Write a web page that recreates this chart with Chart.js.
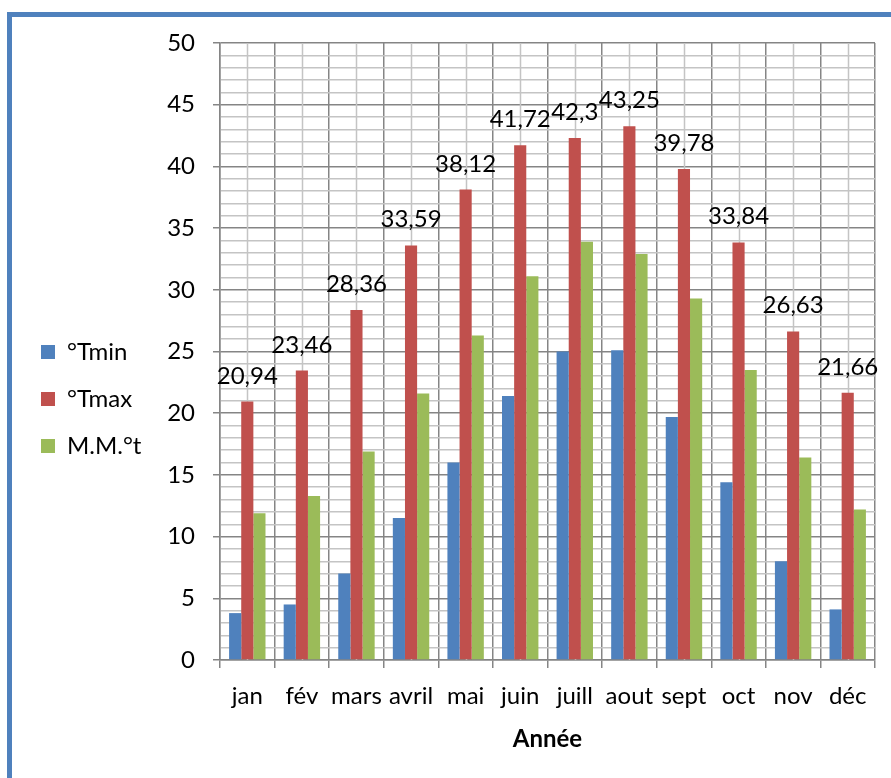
<!DOCTYPE html>
<html lang="fr">
<head>
<meta charset="utf-8">
<title>Températures mensuelles</title>
<script src="https://cdn.jsdelivr.net/npm/chart.js@4.4.1/dist/chart.umd.min.js"></script>
<style>
  html, body { margin: 0; padding: 0; background: #fff; overflow: hidden; }
  #wrap { position: relative; width: 891px; height: 778px; }
  #frame {
    position: absolute; left: 7px; top: 12px;
    width: 1000px; height: 1000px;
    border: 5px solid #4f81bd; box-sizing: border-box;
  }
  #chart { position: absolute; left: 0; top: 0; }
</style>
</head>
<body>
<div id="wrap">
  <div id="frame"></div>
  <canvas id="chart" width="891" height="778"></canvas>
</div>
<script>
// Mois
const months = ['jan', 'fév', 'mars', 'avril', 'mai', 'juin', 'juill', 'aout', 'sept', 'oct', 'nov', 'déc'];
// Températures minimales moyennes (°C)
const tMin = [3.8, 4.5, 7.0, 11.5, 16.0, 21.4, 25.0, 25.1, 19.7, 14.4, 8.0, 4.1];
// Températures maximales moyennes (°C)
const tMax = [20.94, 23.46, 28.36, 33.59, 38.12, 41.72, 42.3, 43.25, 39.78, 33.84, 26.63, 21.66];
// Moyennes mensuelles
const mmt = [11.9, 13.3, 16.9, 21.6, 26.3, 31.1, 33.9, 32.9, 29.3, 23.5, 16.4, 12.2];
// Bornes et pas de l'axe des valeurs
const yMin = 0, yMax = 50, yMajor = 5, yMinor = 1;

const FONT = 'Lato, "Open Sans", "Noto Sans", sans-serif';
const MAJOR = '#858585';
const MINOR = '#c4c4c4';
const PAD_LEFT = 18;
const PLOT_LEFT = 220;

const fmt = v => String(v).replace('.', ',');

// Quadrillage secondaire vertical, au milieu de chaque mois
const minorVerticals = {
  id: 'minorVerticals',
  beforeDatasetsDraw(chart) {
    const { ctx, chartArea, scales: { x } } = chart;
    ctx.save();
    ctx.strokeStyle = MINOR;
    ctx.lineWidth = 1.5;
    months.forEach((m, i) => {
      const px = Math.round(x.getPixelForValue(i)) + 0.5;
      ctx.beginPath();
      ctx.moveTo(px, chartArea.top);
      ctx.lineTo(px, chartArea.bottom);
      ctx.stroke();
    });
    ctx.restore();
  }
};

// Étiquettes de valeur au-dessus des barres °Tmax
const maxLabels = {
  id: 'maxLabels',
  afterDatasetsDraw(chart) {
    const { ctx } = chart;
    const meta = chart.getDatasetMeta(1);
    ctx.save();
    ctx.font = '24px ' + FONT;
    ctx.fillStyle = '#000';
    ctx.textAlign = 'center';
    ctx.textBaseline = 'alphabetic';
    meta.data.forEach((bar, i) => {
      ctx.fillText(fmt(tMax[i]), bar.x, bar.y - 18);
    });
    ctx.restore();
  }
};

new Chart(document.getElementById('chart'), {
  type: 'bar',
  data: {
    labels: months,
    datasets: [
      { label: '°Tmin', data: tMin, backgroundColor: '#4f81bd', borderWidth: 0 },
      { label: '°Tmax', data: tMax, backgroundColor: '#c0504d', borderWidth: 0 },
      { label: 'M.M.°t', data: mmt, backgroundColor: '#9bbb59', borderWidth: 0 }
    ]
  },
  options: {
    responsive: false,
    animation: false,
    events: [],
    datasets: { bar: { categoryPercentage: 0.667, barPercentage: 1.0 } },
    layout: { padding: { top: 43, right: 16, bottom: 23, left: PAD_LEFT } },
    plugins: {
      tooltip: { enabled: false },
      legend: {
        position: 'left',
        labels: {
          font: { family: FONT, size: 24 },
          color: '#000',
          boxWidth: 14,
          boxHeight: 14,
          padding: 23
        }
      }
    },
    scales: {
      x: {
        grid: {
          offset: true,
          color: MAJOR,
          lineWidth: 1.5,
          tickLength: 8,
          tickColor: MAJOR
        },
        border: { color: MAJOR, width: 1.5 },
        ticks: { font: { family: FONT, size: 24 }, color: '#000', padding: 14, maxRotation: 0, autoSkip: false },
        title: {
          display: true,
          text: 'Année',
          font: { family: FONT, size: 24, weight: 'bold' },
          color: '#000',
          padding: { top: 12, bottom: 1 }
        },
        afterFit(scale) { scale.height = 95; }
      },
      y: {
        min: yMin,
        max: yMax,
        ticks: {
          stepSize: yMinor,
          autoSkip: false,
          font: { family: FONT, size: 24 },
          color: '#000',
          padding: 18,
          callback: v => (v % yMajor === 0 ? String(v) : '')
        },
        grid: {
          color: c => (c.tick && c.tick.value % yMajor === 0 ? MAJOR : MINOR),
          tickColor: c => (c.tick && c.tick.value % yMajor === 0 ? MAJOR : 'rgba(0,0,0,0)'),
          lineWidth: 1.5,
          tickLength: 7
        },
        border: { color: MAJOR, width: 1.5 },
        afterFit(scale) {
          const lw = scale.chart.legend ? scale.chart.legend.width : 0;
          scale.width = Math.max(30, PLOT_LEFT - PAD_LEFT - lw);
        }
      }
    }
  },
  plugins: [minorVerticals, maxLabels]
});
</script>
</body>
</html>
